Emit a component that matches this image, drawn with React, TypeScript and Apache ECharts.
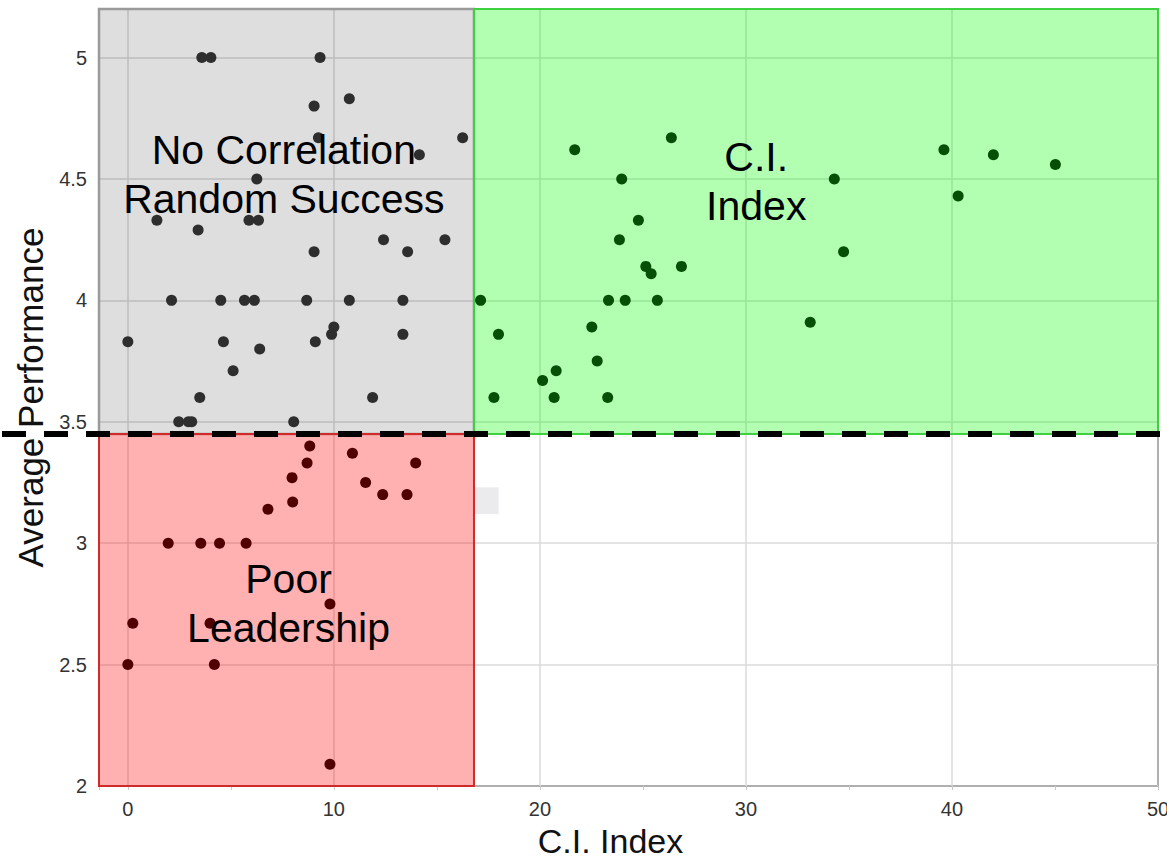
import React, { useEffect, useRef } from "react";
import * as echarts from "echarts";

// ---- data ----
const grayX = [3.59, 4.03, 9.33, 10.75, 9.04, 9.25, 16.25, 14.15, 6.26, 1.41, 5.88, 6.34, 3.41, 12.41, 15.39, 9.04, 13.58, 2.12, 4.51, 5.66, 6.14, 8.68, 10.75, 13.35, 0, 4.64, 9.1, 10, 9.89, 13.35, 6.4, 5.11, 3.49, 11.88, 2.47, 2.94, 3.1, 8.05];
const grayY = [5, 5, 5, 4.83, 4.8, 4.67, 4.67, 4.6, 4.5, 4.33, 4.33, 4.33, 4.29, 4.25, 4.25, 4.2, 4.2, 4, 4, 4, 4, 4, 4, 4, 3.83, 3.83, 3.83, 3.89, 3.86, 3.86, 3.8, 3.71, 3.6, 3.6, 3.5, 3.5, 3.5, 3.5];

const redX = [8.83, 10.9, 8.7, 13.97, 7.97, 11.54, 12.37, 13.55, 8.0, 6.8, 1.96, 3.54, 4.45, 5.74, 9.81, 0.24, 3.99, 0, 4.2, 9.81];
const redY = [3.4, 3.37, 3.33, 3.33, 3.27, 3.25, 3.2, 3.2, 3.17, 3.14, 3, 3, 3, 3, 2.75, 2.67, 2.67, 2.5, 2.5, 2.09];

const greenX = [26.38, 21.69, 23.97, 34.29, 24.78, 23.86, 34.74, 25.14, 25.4, 26.87, 17.12, 23.33, 24.14, 25.7, 33.12, 17.99, 22.52, 22.78, 20.79, 20.13, 17.77, 20.69, 23.29, 39.61, 42.01, 45.02, 40.3];
const greenY = [4.67, 4.62, 4.5, 4.5, 4.33, 4.25, 4.2, 4.14, 4.11, 4.14, 4, 4, 4, 4, 3.91, 3.86, 3.89, 3.75, 3.71, 3.67, 3.6, 3.6, 3.6, 4.62, 4.6, 4.56, 4.43];

// axis extents and region boundaries
const xMin = -1.4;
const xMax = 50;
const yMin = 2;
const yMax = 5.2;
const yInterval = 0.5;
const xSplit = 16.8;
const yThreshold = 3.45;

// region labels: text and anchor (data coordinates)
const regionLabels = [
  { text: "No Correlation\nRandom Success", x: 7.57, y: 4.52 },
  { text: "C.I.\nIndex", x: 30.5, y: 4.49 },
  { text: "Poor\nLeadership", x: 7.8, y: 2.75 },
];

// small stray patch visible in the reference (data coordinates)
const patch = { x0: 16.85, x1: 18.0, y0: 3.12, y1: 3.23 };

const FONT = '"Liberation Sans", Arial, Helvetica, sans-serif';

const zip = (xs: number[], ys: number[]) => xs.map((x, i) => [x, ys[i]]);

export default function App() {
  const ref = useRef<HTMLDivElement>(null);

  useEffect(() => {
    const el = ref.current;
    if (!el) return;
    const chart = echarts.init(el, null, { renderer: "svg" });

    const option: any = {
      animation: false,
      backgroundColor: "#ffffff",
      textStyle: { fontFamily: FONT },
      grid: {
        left: 99,
        right: 9,
        top: 9,
        bottom: 76,
        outerBoundsMode: "none",
        containLabel: false,
        show: true,
        borderColor: "#333333",
        borderWidth: 2,
        backgroundColor: "transparent",
      },
      xAxis: {
        type: "value",
        min: xMin,
        max: xMax,
        splitNumber: 5,
        name: "C.I. Index",
        nameLocation: "middle",
        nameGap: 37,
        nameTextStyle: {
          fontSize: 34,
          color: "#111",
          fontFamily: FONT,
          padding: [0, 36, 0, 0],
        },
        axisLine: { show: false },
        axisTick: { show: true, length: 4, lineStyle: { color: "#c8c8c8", width: 1 } },
        minorTick: { show: true, splitNumber: 2, length: 4, lineStyle: { color: "#c8c8c8", width: 1 } },
        axisLabel: {
          fontSize: 20,
          color: "#333",
          margin: 13,
          showMinLabel: false,
          fontFamily: FONT,
        },
        splitLine: { show: true, lineStyle: { color: "#dadada", width: 1.5 } },
      },
      yAxis: {
        type: "value",
        min: yMin,
        max: yMax,
        interval: yInterval,
        name: "Average Performance",
        nameLocation: "middle",
        nameGap: 48,
        nameTextStyle: { fontSize: 35, color: "#111", fontFamily: FONT },
        axisLine: { show: false },
        axisTick: { show: false },
        axisLabel: {
          fontSize: 20,
          color: "#333",
          margin: 12,
          showMaxLabel: false,
          fontFamily: FONT,
        },
        splitLine: { show: true, lineStyle: { color: "#dadada", width: 1.5 } },
      },
      series: [
        {
          name: "No Correlation",
          type: "scatter",
          symbolSize: 11,
          itemStyle: { color: "#2e2e2e", opacity: 1 },
          data: zip(grayX, grayY),
          z: 5,
          markArea: {
            silent: true,
            itemStyle: { color: "rgba(0,0,0,0.13)", borderColor: "#9a9a9a", borderWidth: 2.5 },
            label: { show: false },
            data: [[{ coord: [xMin, yThreshold] }, { coord: [xSplit, yMax] }]],
          },
        },
        {
          name: "Poor Leadership",
          type: "scatter",
          symbolSize: 11,
          itemStyle: { color: "#500000", opacity: 1 },
          data: zip(redX, redY),
          z: 5,
          markArea: {
            silent: true,
            itemStyle: { color: "rgba(255,0,0,0.31)", borderColor: "#d12a2a", borderWidth: 2 },
            label: { show: false },
            data: [[{ coord: [xMin, yMin] }, { coord: [xSplit, yThreshold] }]],
          },
        },
        {
          name: "C.I. Index",
          type: "scatter",
          symbolSize: 11,
          itemStyle: { color: "#064f06", opacity: 1 },
          data: zip(greenX, greenY),
          z: 5,
          markArea: {
            silent: true,
            itemStyle: { color: "rgba(0,255,0,0.3)", borderColor: "#3fd03f", borderWidth: 2 },
            label: { show: false },
            data: [[{ coord: [xSplit, yThreshold] }, { coord: [xMax, yMax] }]],
          },
        },
      ],
    };

    chart.setOption(option);

    const toPx = (x: number, y: number) =>
      chart.convertToPixel({ gridIndex: 0 }, [x, y]) as number[];

    const lineY = toPx(0, yThreshold)[1];
    const rightX = toPx(xMax, yThreshold)[0];
    const p0 = toPx(patch.x0, patch.y1);
    const p1 = toPx(patch.x1, patch.y0);

    const graphic: any[] = [
      {
        type: "rect",
        z: 3,
        silent: true,
        shape: { x: p0[0], y: p0[1], width: p1[0] - p0[0], height: p1[1] - p0[1] },
        style: { fill: "#ebebee" },
      },
      ...regionLabels.map((l) => {
        const p = toPx(l.x, l.y);
        return {
          type: "text",
          z: 20,
          silent: true,
          x: p[0],
          y: p[1],
          style: {
            text: l.text,
            fill: "#000",
            fontSize: 41,
            fontFamily: FONT,
            lineHeight: 49,
            align: "center",
            verticalAlign: "middle",
          },
        };
      }),
      {
        type: "line",
        z: 30,
        silent: true,
        shape: { x1: 2, y1: lineY, x2: rightX + 2, y2: lineY },
        style: { stroke: "#000", lineWidth: 6, lineDash: [24, 18] },
      },
    ];

    chart.setOption({ graphic });

    return () => {
      chart.dispose();
    };
  }, []);

  return (
    <div
      ref={ref}
      style={{ position: "absolute", left: 0, top: 0, width: 1167, height: 862 }}
    />
  );
}
